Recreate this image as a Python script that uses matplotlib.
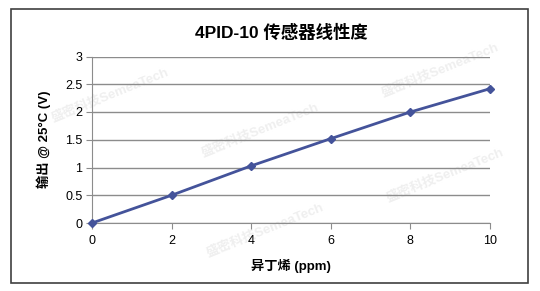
import matplotlib
matplotlib.use("Agg")
import matplotlib.pyplot as plt
from matplotlib.patches import Rectangle

plt.rcParams['font.family'] = ['Liberation Sans', 'Noto Sans CJK SC', 'DejaVu Sans']

# data
conc_ppm = [0, 2, 4, 6, 8, 10]
output_v = [0.0, 0.50, 1.03, 1.52, 2.00, 2.42]
x_ticks = [0, 2, 4, 6, 8, 10]
y_ticks = [0, 0.5, 1, 1.5, 2, 2.5, 3]
y_tick_labels = ['0', '0.5', '1', '1.5', '2', '2.5', '3']

title = '4PID-10 传感器线性度'
x_label = '异丁烯 (ppm)'
y_label = '输出 @ 25°C (V)'

W, H = 540, 291
fig = plt.figure(figsize=(W / 100, H / 100), dpi=100)
fig.patch.set_facecolor('white')

# outer chart frame
fig.patches.append(Rectangle((11 / W, 1 - 283 / H), (528 - 11) / W, (283 - 9) / H,
                             transform=fig.transFigure, fill=False,
                             edgecolor='#404040', linewidth=1.2))

# faint watermarks, kept behind the chart
wm_pos = [(260, 130), (440, 70), (445, 175), (265, 230), (110, 95)]
for px, py in wm_pos:
    fig.text(px / W, 1 - py / H, '盛密科技SemeaTech', rotation=22, color='#efefef',
             fontsize=9.5, fontweight='bold', ha='center', va='center', zorder=-1)

ax = fig.add_axes([92 / W, 1 - 223 / H, (490 - 92) / W, (223 - 56.5) / H])
ax.set_zorder(1)
ax.set_facecolor('none')
ax.set_xlim(0, 10)
ax.set_ylim(0, 3)
ax.set_xticks(x_ticks)
ax.set_yticks(y_ticks)
ax.set_yticklabels(y_tick_labels)
ax.yaxis.grid(True, color='#8c8c8c', linewidth=1.0)
ax.set_axisbelow(True)
for s in ['top', 'right']:
    ax.spines[s].set_visible(False)
ax.spines['left'].set_color('#8c8c8c')
ax.spines['bottom'].set_color('#8c8c8c')
ax.tick_params(axis='y', length=4, color='#8c8c8c', labelsize=9, pad=3)
ax.tick_params(axis='x', length=4, color='#8c8c8c', labelsize=9, pad=5)

ax.plot(conc_ppm, output_v, color='#44539a', linewidth=2, marker='D',
        markersize=4, clip_on=False, zorder=3)

fig.text(281 / W, 1 - 32 / H, title, ha='center', va='center',
         fontsize=12.5, fontweight='bold', zorder=2)
ax.set_xlabel(x_label, fontsize=9.5, fontweight='bold', labelpad=8)
ax.set_ylabel(y_label, fontsize=9.5, fontweight='bold', labelpad=10)

fig.savefig('out.png', dpi=100)
